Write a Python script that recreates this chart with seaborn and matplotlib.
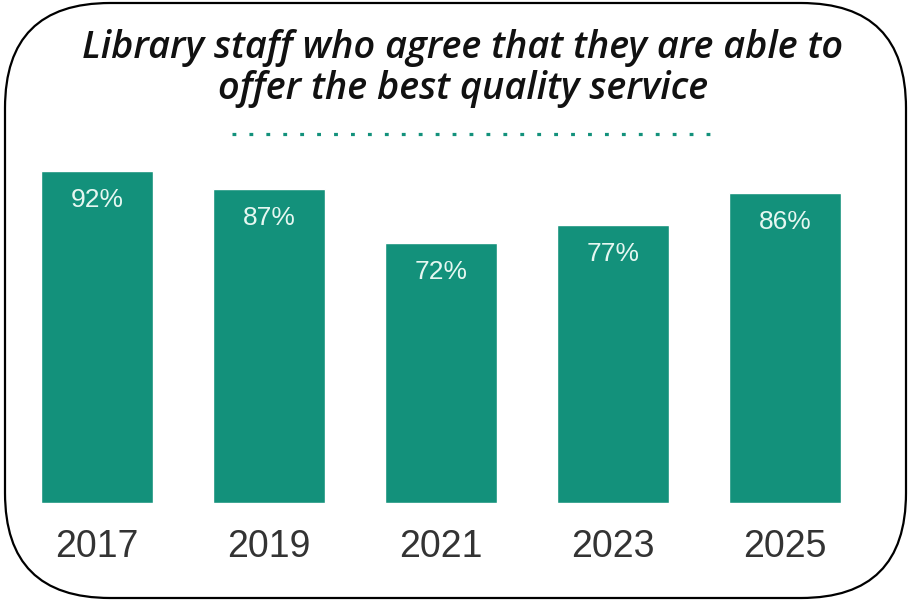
import matplotlib
matplotlib.use("Agg")
import matplotlib.pyplot as plt
from matplotlib.patches import FancyBboxPatch
from matplotlib.lines import Line2D
import seaborn as sns
import pandas as pd

years = ["2017", "2019", "2021", "2023", "2025"]
agree_pct = [92, 87, 72, 77, 86]
title_lines = ["Library staff who agree that they are able to",
               "offer the best quality service"]

BAR = "#13917b"
W, H = 909, 601

sns.set_theme(style="white")
plt.rcParams["font.family"] = ["Liberation Sans", "DejaVu Sans"]

df = pd.DataFrame({"year": years, "pct": agree_pct})

fig = plt.figure(figsize=(W / 100, H / 100), dpi=100)
fig.patch.set_facecolor("white")

# axes: 172 px per category, zero line at y=503 px, 3.61 px per percent
ax = fig.add_axes([11 / W, 98 / H, 860 / W, 361 / H])
sns.barplot(data=df, x="year", y="pct", color=BAR, saturation=1,
            width=0.65, ax=ax)
ax.set_xlim(-0.5, 4.5)
ax.set_ylim(0, 100)
ax.set_xlabel("")
ax.set_ylabel("")
ax.set_yticks([])
for s in ax.spines.values():
    s.set_visible(False)
ax.set_facecolor("none")
ax.tick_params(axis="x", length=0, pad=19, labelsize=27, labelcolor="#333333")

for i, v in enumerate(agree_pct):
    ax.annotate(f"{v}%", (i, v), xytext=(0, -21), textcoords="offset points",
                ha="center", va="center", fontsize=19, color="#e6f7f1")

# title
for line, yc in zip(title_lines, [48, 89]):
    fig.text(463 / W, 1 - yc / H, line, ha="center", va="center",
             fontsize=27.3, fontweight="semibold", style="italic",
             color="#111111", family=["Open Sans", "DejaVu Sans"])

# dotted rule under the title
fig.add_artist(Line2D([232 / W, 720 / W], [1 - 134 / H, 1 - 134 / H],
                      transform=fig.transFigure, color=BAR, lw=2.3,
                      dashes=(1.2, 4.1), dash_capstyle="butt"))

# rounded frame
frame = FancyBboxPatch((5, 3), 901, 595,
                       boxstyle="round,pad=0,rounding_size=105",
                       transform=None, fill=False, edgecolor="black",
                       linewidth=1.6)
fig.add_artist(frame)

fig.savefig("out.png", dpi=100, facecolor="white")
